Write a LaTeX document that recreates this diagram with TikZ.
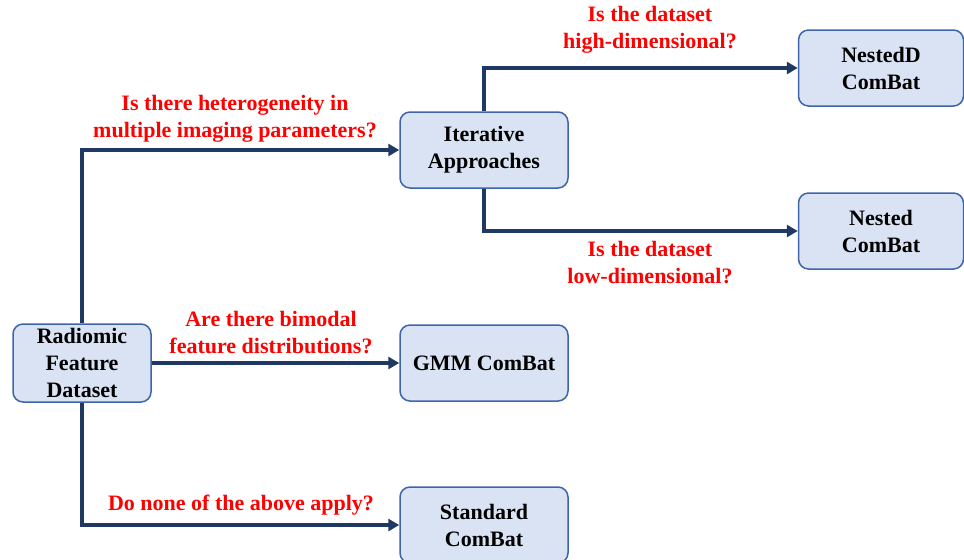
\documentclass[tikz,border=0pt]{standalone}
\usepackage{fontspec}
\setmainfont{Liberation Serif}
\usetikzlibrary{arrows.meta}
\definecolor{boxfill}{RGB}{218,227,243}
\definecolor{boxline}{RGB}{62,100,170}
\definecolor{flowline}{RGB}{32,56,100}
\definecolor{asktext}{RGB}{255,0,0}

\begin{document}
\begin{tikzpicture}[x=0.5pt,y=-0.5pt,
    font=\fontsize{11}{13.5}\selectfont\bfseries,
    method/.style={draw=boxline,fill=boxfill,line width=0.75pt,rounded corners=5pt,
        align=center,minimum width=84pt,minimum height=38pt,inner sep=2pt},
    ask/.style={text=asktext,align=center,inner sep=0pt},
    flow/.style={draw=flowline,line width=1.8pt,-{Triangle[length=5.5pt,width=6pt]}}]
        \useasboundingbox (0,0) rectangle (964,559);
        \node[method,minimum width=69pt,minimum height=39pt] (data) at (82,363) {Radiomic\\Feature\\Dataset};
        \node[method] (iter) at (484,150) {Iterative\\Approaches};
        \node[method] (gmm) at (484,363) {GMM ComBat};
        \node[method] (std) at (484,525) {Standard\\ComBat};
        \node[method,minimum width=82.5pt] (nestd) at (881,68) {NestedD\\ComBat};
        \node[method,minimum width=82.5pt] (nest) at (881,231) {Nested\\ComBat};
        \draw[flow] (data.north) |- (iter.west);
        \draw[flow] (data.east) -- (gmm.west);
        \draw[flow] (data.south) |- (std.west);
        \draw[flow] (iter.north) |- (nestd.west);
        \draw[flow] (iter.south) |- (nest.west);
        \node[ask] (askhet) at (235,119) {Is there heterogeneity in\\multiple imaging parameters?};
        \node[ask] (askbim) at (271,333) {Are there bimodal\\feature distributions?};
        \node[ask] (asknone) at (241,505) {Do none of the above apply?};
        \node[ask] (askhigh) at (650,30) {Is the dataset\\high-dimensional?};
        \node[ask] (asklow) at (650,263) {Is the dataset\\low-dimensional?};
    \end{tikzpicture}
\end{document}
